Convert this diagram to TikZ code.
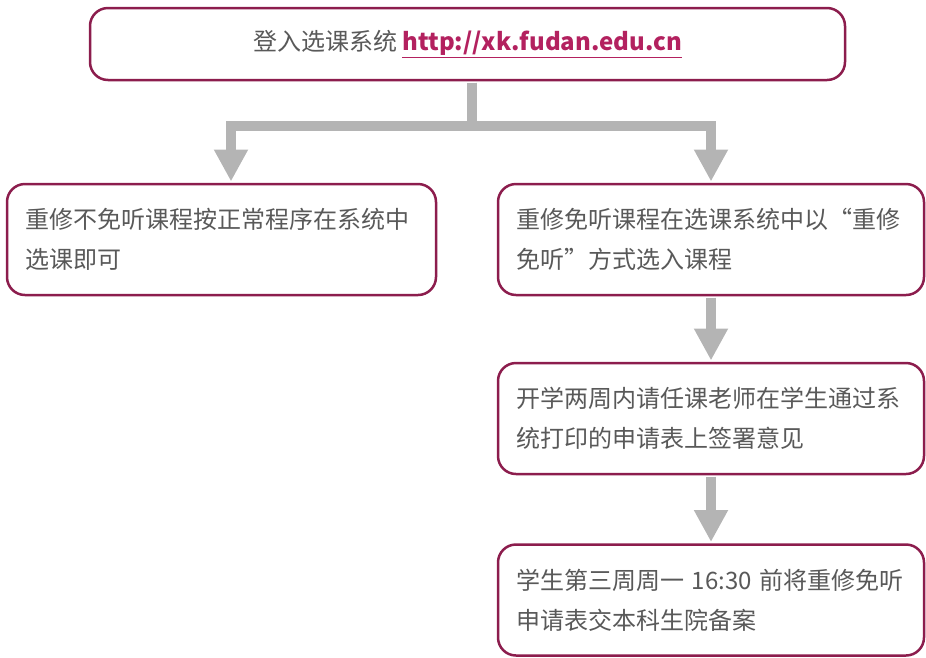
\documentclass[tikz,border=0pt]{standalone}
\usepackage{fontspec}
\setmainfont{Noto Sans CJK SC}
\usetikzlibrary{arrows.meta, positioning}
\definecolor{boxborder}{HTML}{8C1D4D}
\definecolor{linkred}{HTML}{B3215F}
\definecolor{textgray}{HTML}{595959}
\definecolor{flowgray}{HTML}{B4B4B4}
\tikzset{
  stepbox/.style = {
    draw=boxborder, line width=2.5pt, rounded corners=18pt, fill=white,
    text=textgray, inner sep=0pt, font=\fontsize{24}{40}\selectfont
  },
  flow/.style = {
    draw=flowgray, line width=10pt, shorten <=1.25pt, shorten >=1.25pt,
    -{Triangle[width=32pt, length=32pt]}
  }
}

\begin{document}
\begin{tikzpicture}[x=1pt, y=-1pt]

  \useasboundingbox (0,0) rectangle (926,657);

  %% Re-take course selection

  % Login
  \node[stepbox, minimum width=755pt, minimum height=72pt] (login) at (467.5,44)
    {登入选课系统 {\bfseries\color{linkred}\underline{http://xk.fudan.edu.cn}}};

  % Regular selection
  \node[stepbox, minimum width=429pt, minimum height=111pt, text width=393pt, align=left] (regular) at (221.5,239.5)
    {重修不免听课程按正常程序在系统中\\选课即可};

  % Exempt selection
  \node[stepbox, minimum width=426pt, minimum height=111pt, text width=390pt, align=left] (exempt) at (711,239.5)
    {重修免听课程在选课系统中以“重修\\免听”方式选入课程};

  % Teacher signature
  \node[stepbox, minimum width=426pt, minimum height=111pt, text width=390pt, align=left] (sign) at (711,418.5)
    {开学两周内请任课老师在学生通过系\\统打印的申请表上签署意见};

  % Submit form
  \node[stepbox, minimum width=426pt, minimum height=111pt, text width=390pt, align=left] (submit) at (711,600)
    {学生第三周周一 16:30 前将重修免听\\申请表交本科生院备案};

  % Arrows
  \draw[flow] ([xshift=4.5pt]login.south) -- ++(0,45) -| ([xshift=9.5pt]regular.north);
  \draw[flow] ([xshift=4.5pt]login.south) -- ++(0,45) -| (exempt.north);
  \draw[flow] (exempt.south) -- (sign.north);
  \draw[flow] (sign.south) -- (submit.north);

\end{tikzpicture}
\end{document}
